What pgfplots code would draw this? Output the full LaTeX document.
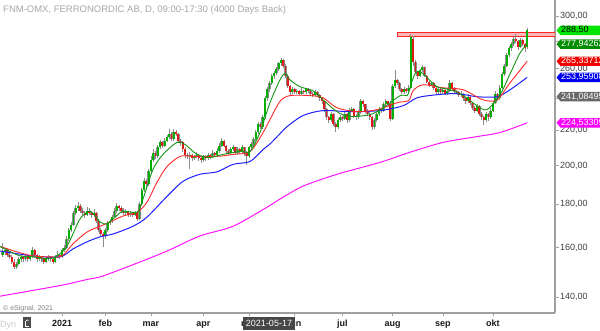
\documentclass[border=0pt]{standalone}
\usepackage{pgfplots}
\pgfplotsset{compat=1.18}
\usepackage{pgfplotstable}
\usepackage{fontspec}
\setmainfont{Liberation Sans}
\usetikzlibrary{calc}
\definecolor{cgreen}{RGB}{0,175,0}
\definecolor{cred}{RGB}{225,25,25}
\definecolor{wick}{RGB}{140,140,140}
\definecolor{magreen}{RGB}{20,150,20}
\definecolor{mared}{RGB}{255,40,40}
\definecolor{mablue}{RGB}{30,30,255}
\definecolor{mamag}{RGB}{255,20,255}
\definecolor{axgray}{RGB}{160,160,160}
\definecolor{tagbright}{RGB}{0,230,0}
\definecolor{tagdark}{RGB}{0,140,0}
\definecolor{tagred}{RGB}{240,0,0}
\definecolor{tagblue}{RGB}{0,0,240}
\definecolor{taggray}{RGB}{105,105,105}
\definecolor{tagmag}{RGB}{250,0,250}

\pgfplotstableread{
i o h l c
0 157 162 156 158
1 158 160 157 159
2 159 159.5 156 157
3 157 158 155 156
4 156 157 153 154
5 154 155 151 152
6 152 154 151 153
7 153 156 152.5 155
8 155 157 154 156
9 156 156.5 154 155
10 155 157 154.5 156
11 156 156.5 154 155
12 155 157 154.5 156
13 156 160.5 155.5 159
14 159 159.5 156 157
15 157 157.5 154 155
16 155 157 154.5 156
17 156 156.5 154 155
18 155 155.5 153 154
19 154 156 153.5 155
20 155 157 154.5 156
21 156 156.5 154 155
22 155 155.5 153 154
23 154 157 153.5 156
24 156 158.5 155.5 157
25 157 157.5 155 156
26 156 160 155.5 159
27 159 161 158 160
28 160 165 159.5 164
29 164 169 163 168
30 168 171.5 167 170
31 170 177 169.5 176
32 176 179.5 175 178
33 178 181 177 179
34 179 180 176 177
35 177 178 174.5 176
36 176 177 173.5 175
37 175 178.5 174.5 177
38 177 178 175 176
39 176 177 173.5 175
40 175 177.5 174 176
41 176 176.5 171 172
42 172 173 167 168
43 168 169 165 166
44 166 167 160.5 165
45 165 169 164 168
46 168 172 167 171
47 171 173 170 172
48 172 175 171 174
49 174 178 173.5 177
50 177 180.5 176 179
51 179 179.5 177 178
52 178 179 176 177
53 177 178 175 176
54 176 177.5 175 176.5
55 176.5 177 174 175
56 175 177 174 176
57 176 176.5 174 175
58 175 177 174.5 176
59 176 176.5 172 173
60 173 181 172.5 180
61 180 188 179 187
62 187 193.5 186 192
63 192 193 188 190
64 190 198 189 197
65 197 205 196 203
66 203 209 202 207
67 207 208 203.5 205
68 205 211.5 204 210
69 210 214.5 209 213
70 213 214 209.5 211
71 211 215.5 210 214
72 214 217.5 213 216
73 216 220.5 215 218
74 218 219 213.5 215
75 215 220.5 214 219
76 219 220 216.5 218
77 218 218.5 212.5 214
78 214 215 211 213
79 213 213.5 207.5 209
80 209 210 204 206
81 206 207 203.5 205
82 205 207.5 198 206
83 206 206.5 202.5 204
84 204 206 203 205
85 205 207.5 204 206
86 206 206.5 202.5 204
87 204 204.5 201.5 203
88 203 206 202 205
89 205 205.5 202.5 204
90 204 207 203 206
91 206 206.5 203.5 205
92 205 208.5 204 207
93 207 207.5 204.5 206
94 206 209.5 205 208
95 208 212.5 207 211
96 211 215.5 210 214
97 214 214.5 210 211
98 211 211.5 206.5 208
99 208 209 205.5 207
100 207 210.5 206 209
101 209 211.5 208 210
102 210 210.5 205.5 207
103 207 210.5 206 209
104 209 209.5 206.5 208
105 208 211.5 207 210
106 210 210.5 205 207
107 207 208 200.5 205
108 205 211 204 210
109 210 213 209 212
110 212 216 211 215
111 215 220 214 219
112 219 225 218 224
113 224 225 220.5 222
114 222 229.5 221 228
115 228 241.5 227 240
116 240 247.5 238.5 246
117 246 251.5 244 250
118 250 256.5 248.5 255
119 255 258.5 253 257
120 257 261.5 255.5 260
121 260 265 258.5 264
122 264 268 262 266
123 266 267 260.5 262
124 262 263 253.5 255
125 255 256 246.5 248
126 248 249 242 244
127 244 247.5 243 246
128 246 246.5 242.5 244
129 244 246 243 245
130 245 245.5 242 243
131 243 246.5 242 245
132 245 245.5 242.5 244
133 244 247 243 246
134 246 246.5 243.5 245
135 245 245.5 241.5 243
136 243 244 240.5 242
137 242 245.5 241 244
138 244 244.5 240.5 242
139 242 242.5 238.5 240
140 240 240.5 236.5 238
141 238 238.5 231.5 233
142 233 234 226.5 228
143 228 229 224.5 226
144 226 231.5 225 230
145 230 230.5 222.5 224
146 224 225 219 222
147 222 227.5 221 226
148 226 229.5 225 228
149 228 229 225.5 227
150 227 231.5 226 230
151 230 230.5 224.5 226
152 226 233.5 225 232
153 232 234.5 231 233
154 233 233.5 227.5 229
155 229 230 226.5 228
156 228 232.5 227 231
157 231 239.5 230 238
158 238 239 234.5 236
159 236 236.5 230.5 232
160 232 233 228.5 230
161 230 231 226.5 228
162 228 228.5 220 222
163 222 227.5 221 226
164 226 231.5 225 230
165 230 234.5 229 233
166 233 234 230.5 232
167 232 237.5 231 236
168 236 239.5 235 238
169 238 238.5 234.5 236
170 236 238 225.5 227
171 227 249.5 226 248
172 248 259 247 252
173 252 253 248.5 250
174 250 250.5 244.5 246
175 246 246.5 242.5 244
176 244 247.5 243 246
177 246 246.5 243.5 245
178 245 248.5 244 247
179 247 286 246 283
180 282 284 262 265
181 265 266 256 258
182 258 258.5 253 255
183 255 260 254 259
184 259 262.5 258 261
185 261 261.5 254 255
186 255 255.5 250 251
187 251 251.5 247.5 249
188 249 251 248 250
189 250 250.5 245.5 247
190 247 247.5 243 244
191 244 247.5 243 246
192 246 246.5 242.5 244
193 244 246.5 243 245.5
194 245.5 246 242 243
195 243 246.5 242 245
196 245 252.5 244 250
197 250 250.5 245.5 247
198 247 247.5 243.5 245
199 245 245.5 242.5 244
200 244 244.5 240.5 242
201 242 244.5 241 243
202 243 243.5 238.5 240
203 240 240.5 236.5 238
204 238 242.5 237 241
205 241 241.5 235.5 237
206 237 237.5 232.5 234
207 234 235 230.5 232
208 232 236.5 231 235
209 235 235.5 228.5 230
210 230 231 226 228
211 228 229 223 226
212 226 231.5 225 230
213 230 230.5 225.5 228
214 228 233.5 227 232
215 232 238.5 231 237
216 237 244.5 236 243
217 243 243.5 238.5 240
218 240 248.5 239 247
219 247 257.5 246 256
220 256 263.5 255 262
221 262 271.5 261 270
222 270 276.5 268.5 275
223 275 279.5 273 278
224 278 283.5 276.5 282
225 282 285.5 278.5 280
226 280 281 273.5 276
227 276 282.5 275 281
228 281 282 276.5 278
229 278 279 272 275
230 276 290.5 274.5 288.5
}\ohlc

\pgfplotsset{candle/.style 2 args={draw=none, mark=none,
  error bars/.cd, y dir=minus, y explicit, error mark=none,
  error bar style={draw=#1, solid, line width=#2}}}

\begin{document}
\begin{tikzpicture}
\useasboundingbox (0pt,-17pt) rectangle (600pt,313pt);
\begin{axis}[
  at={(0pt,0pt)}, anchor=south west,
  scale only axis, width=555pt, height=313pt,
  ymode=log,
  xmin=-1.2, xmax=242.2, ymin=134.05, ymax=313.3,
  axis x line*=bottom, axis y line*=right,
  axis line style={draw=axgray, line width=1.2pt, -},
  tick align=outside, major tick length=3.5pt,
  tick style={axgray, line width=0.8pt},
  minor tick num=0,
  ytick={140,160,180,200,220,240,260,280,300},
  yticklabels={\mbox{140,00},\mbox{160,00},\mbox{180,00},\mbox{200,00},\mbox{220,00},{},\mbox{260,00},{},\mbox{300,00}},
  yticklabel style={font=\fontsize{9}{10}\selectfont, text=black!75, inner xsep=1.5pt},
  xtick={26,45,65,88,108,128,149,171,193,215},
  xticklabels={\textbf{2021},\textbf{feb},\textbf{mar},\textbf{apr},\textbf{maj},\textbf{jun},\textbf{jul},\textbf{aug},\textbf{sep},\textbf{okt}},
  xticklabel style={font=\fontsize{9}{10}\selectfont, text=black!90, text height=6.6pt, text depth=2pt, inner sep=0pt, yshift=-3pt},
  major x tick style={line width=0.6pt},
]
% band
\addplot[fill=red!40, fill opacity=0.7, draw=red!85, line width=0.8pt] coordinates {(173.2,283.6) (242.2,283.6) (242.2,287.0) (173.2,287.0)} -- cycle;
% wicks
\addplot[candle={wick}{0.8pt}]
  table[x=i, y=h, y error minus expr={\thisrow{h}-\thisrow{l}}] {\ohlc};
% body underlay
\addplot[candle={wick}{2.6pt}]
  table[x=i, y expr={max(\thisrow{o},\thisrow{c})}, y error minus expr={abs(\thisrow{c}-\thisrow{o})}] {\ohlc};
% up bodies
\addplot[candle={cgreen}{1.8pt}]
  table[x=i, y expr={\thisrow{c}>\thisrow{o} ? \thisrow{c} : nan}, y error minus expr={abs(\thisrow{c}-\thisrow{o})}] {\ohlc};
% down bodies
\addplot[candle={cred}{1.8pt}]
  table[x=i, y expr={\thisrow{c}<\thisrow{o} ? \thisrow{o} : nan}, y error minus expr={abs(\thisrow{c}-\thisrow{o})}] {\ohlc};
% moving averages
\addplot[mamag, line width=1pt, smooth] coordinates {(-1.2,140.3) (25.1,144.4) (37.0,146.8) (42.7,147.8) (57.1,152.8) (72.1,158.6) (86.5,165.2) (101.0,169.6) (115.9,178.6) (121.6,182.6) (131.7,189.1) (146.6,195.3) (165.5,201.7) (178.6,207.3) (193.1,212.9) (208.0,216.3) (218.1,218.7) (230,224.53)};
\addplot[mablue, line width=1pt, smooth] coordinates {(-1.2,158.6) (13.3,156.5) (25.1,156.1) (30.8,159.5) (37.0,162.6) (42.7,164.8) (48.4,166.1) (57.1,169.6) (63.3,173.9) (72.1,184.0) (79.1,191.6) (86.5,195.3) (94.0,196.6) (101.0,200.6) (108.5,202.2) (114.2,208.9) (117.2,212) (121.6,218) (124.7,222.2) (131.7,229.0) (140.5,232.1) (152.3,231.4) (165.5,232.1) (175.6,235.2) (181.7,240.3) (190.5,242.3) (199.3,243.0) (208.0,241.0) (216.8,241.0) (222.5,245.6) (230,253.96)};
\addplot[mared, line width=0.9pt, smooth] coordinates {(-1.2,160.6) (6.3,158.2) (13.3,156.5) (20.7,156.1) (26.0,156.5) (30.8,161.7) (37.0,167.0) (42.7,169.6) (47.1,171.6) (52.8,174.4) (58.9,176.2) (63.3,181.1) (67.7,191.2) (72.1,199.5) (77.8,205.0) (83.5,205.0) (94.0,205.0) (101.0,206.1) (108.5,207.8) (114.2,218.7) (117.2,226.5) (121.6,238) (126.0,241.7) (134.8,241.7) (140.5,240.3) (146.6,233.9) (155.4,231.4) (164.2,232.7) (172.9,237.1) (178,238.5) (180,245) (184.3,248.9) (193.1,246.9) (201.9,245.6) (210.6,239.0) (216.8,239.0) (222.5,250.3) (230,265.34)};
\addplot[magreen, line width=0.9pt, smooth] coordinates {(-1.2,160.5) (3,158.5) (7.6,156.5) (13.3,156.1) (20.7,155.3) (25.1,157.4) (28.2,160.8) (30.4,165.2) (33.9,173.0) (38.3,176.7) (42.7,171.6) (45.7,170.7) (49.3,173.9) (52.8,176.7) (58.9,176.2) (61.5,182.6) (65.9,197.9) (70.3,206.1) (76.4,212.9) (80.0,211.7) (85.2,206.1) (90.9,204.4) (96.6,206.1) (104.1,207.8) (108.5,207.8) (112.8,218.7) (117.2,237.1) (121.6,252.3) (123.8,256.8) (126.0,252.3) (130.4,247.6) (136.1,244.9) (140.5,239.0) (146.6,231.4) (152.3,228.4) (161.1,229.6) (166.8,233.9) (174.3,241.7) (177.5,242) (179,249) (181,257) (183,258) (186,254) (190.5,247.6) (196.2,245.6) (201.9,241.7) (208.0,235.2) (212.4,232.7) (218.1,242.3) (222.5,256.4) (226.9,271.4) (230,277.94)};
\coordinate (tA) at (axis cs:242.2,288.5);
\coordinate (tB) at (axis cs:242.2,277.94);
\coordinate (tC) at (axis cs:242.2,265.34);
\coordinate (tD) at (axis cs:242.2,253.96);
\coordinate (tE) at (axis cs:242.2,241.08);
\coordinate (tF) at (axis cs:242.2,224.53);
\end{axis}
% tags
\newcommand{\tag}[4]{%
  \fill[#2] ($(#1)+(1.5pt,0)$) -- ++(4pt,4.7pt) -- ++(60pt,0) -- ++(0,-9.4pt) -- ++(-60pt,0) -- cycle;
  \node[anchor=west, inner sep=0pt, text=#3, font=\fontsize{9}{10}\selectfont] at ($(#1)+(6pt,0)$) {#4};}
\tag{tF}{tagmag}{white}{224,53309}
\tag{tE}{taggray}{white}{241,08495}
\tag{tD}{tagblue}{white}{253,95908}
\tag{tC}{tagred}{white}{265,33712}
\tag{tB}{tagdark}{white}{277,94262}
\tag{tA}{tagbright}{black}{288,50}
% texts
\node[anchor=base west, inner sep=0pt, text=black!35, font=\fontsize{9.5}{11}\selectfont] at (3pt,300.5pt) {FNM-OMX, FERRONORDIC AB, D, 09:00-17:30 (4000 Days Back)};
\node[anchor=base west, inner sep=0pt, text=black!50, font=\fontsize{7}{8}\selectfont] at (3pt,2.5pt) {\textcopyright{} eSignal, 2021};
\node[anchor=base west, inner sep=0pt, text=black!22, font=\fontsize{9}{10}\selectfont] at (0pt,-14.5pt) {Dyn};
\fill[black!70] (23pt,-4pt) rectangle (31pt,-15pt);
\draw[white, line width=0.6pt] (25.5pt,-8pt) -- (25.5pt,-13pt) -- (29pt,-13pt);
\draw[white, line width=0.5pt] (26pt,-8pt) arc[start angle=180, end angle=0, radius=1.3pt];
\fill[black!72] (243pt,-4pt) rectangle (295pt,-17pt);
\node[inner sep=0pt, text=white, font=\fontsize{9}{10}\selectfont] at (269pt,-10.5pt) {2021-05-17};
\end{tikzpicture}
\end{document}
